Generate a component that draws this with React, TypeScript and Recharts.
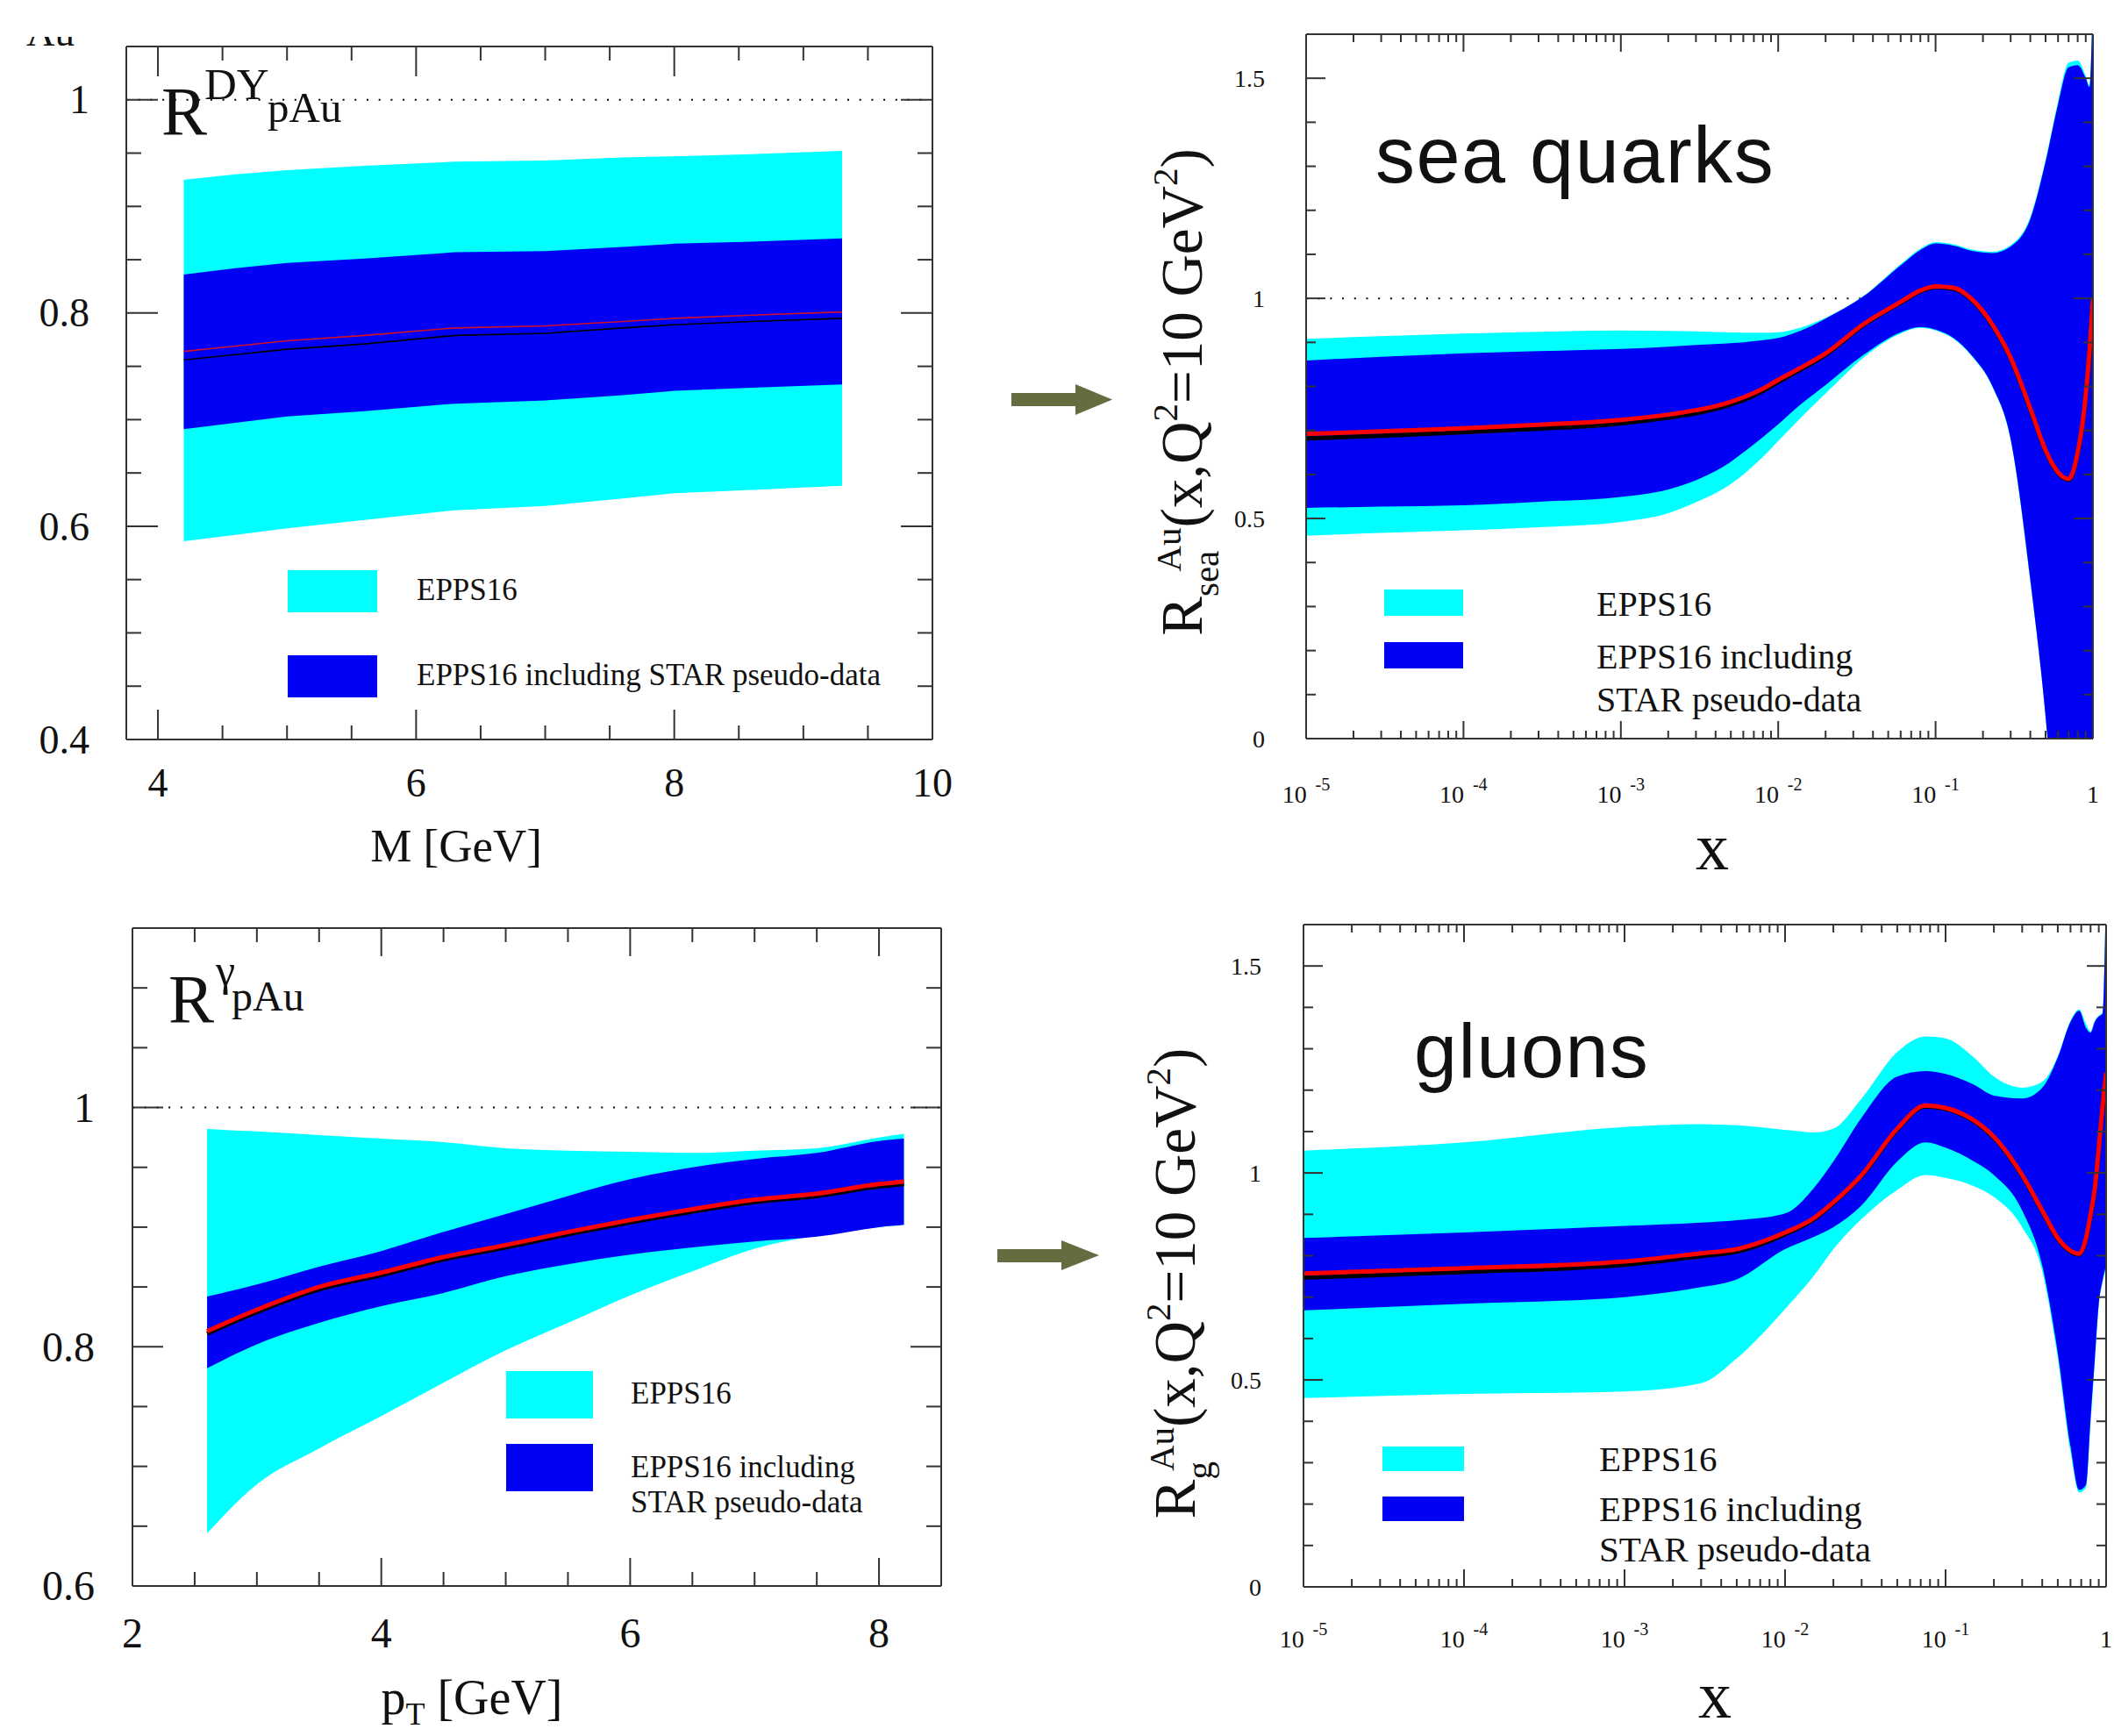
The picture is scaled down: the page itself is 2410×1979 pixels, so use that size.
import React from "react";
import { ComposedChart, Area, Line, XAxis, YAxis } from "recharts";

const SERIF = '"Liberation Serif", "Times New Roman", serif';
const SANS = '"Liberation Sans", Arial, sans-serif';
const CYAN = "#00ffff";
const BLUE = "#0000f5";
const RED = "#ff0000";
const FRAME = "#333";

// ---- R^DY_pAu vs M ----
const dyM = [4.2, 4.6, 5.0, 5.6, 6.3, 7.0, 7.6, 8.0, 8.6, 9.3];
const dyCyanHi = [0.925, 0.93, 0.934, 0.938, 0.942, 0.943, 0.946, 0.947, 0.949, 0.952];
const dyCyanLo = [0.586, 0.592, 0.598, 0.606, 0.615, 0.619, 0.626, 0.631, 0.634, 0.638];
const dyBlueHi = [0.836, 0.842, 0.847, 0.851, 0.857, 0.858, 0.862, 0.865, 0.867, 0.87];
const dyBlueLo = [0.691, 0.697, 0.703, 0.708, 0.715, 0.718, 0.723, 0.727, 0.73, 0.733];
const dyRed = [0.764, 0.769, 0.774, 0.779, 0.786, 0.788, 0.792, 0.795, 0.798, 0.801];
const dyBlack = [0.756, 0.761, 0.766, 0.771, 0.779, 0.781, 0.786, 0.789, 0.792, 0.795];
const dyXTicks = [4, 4.5, 5, 5.5, 6, 6.5, 7, 7.5, 8, 8.5, 9, 9.5, 10];
const dyXMajor = [4, 6, 8, 10];
const dyYTicks = [0.4, 0.45, 0.5, 0.55, 0.6, 0.65, 0.7, 0.75, 0.8, 0.85, 0.9, 0.95, 1];
const dyYMajor = [0.4, 0.6, 0.8, 1];

// ---- R^gamma_pAu vs pT ----
const gPt = [2.6, 3.0, 3.5, 4.0, 4.5, 5.0, 5.5, 6.0, 6.5, 7.0, 7.5, 8.0, 8.2];
const gCyanHi = [0.982, 0.98, 0.977, 0.974, 0.971, 0.966, 0.964, 0.963, 0.962, 0.964, 0.966, 0.975, 0.978];
const gCyanLo = [0.644, 0.685, 0.715, 0.742, 0.77, 0.797, 0.82, 0.843, 0.863, 0.882, 0.893, 0.9, 0.902];
const gBlueHi = [0.842, 0.852, 0.867, 0.88, 0.896, 0.911, 0.926, 0.94, 0.95, 0.957, 0.962, 0.972, 0.974];
const gBlueLo = [0.782, 0.802, 0.82, 0.834, 0.845, 0.859, 0.869, 0.877, 0.883, 0.888, 0.892, 0.9, 0.902];
const gRed = [0.813, 0.831, 0.85, 0.862, 0.875, 0.885, 0.896, 0.906, 0.915, 0.923, 0.928, 0.936, 0.938];
const gBlack = [0.811, 0.829, 0.848, 0.86, 0.873, 0.883, 0.894, 0.904, 0.913, 0.921, 0.926, 0.934, 0.936];
const gXTicks = [2, 2.5, 3, 3.5, 4, 4.5, 5, 5.5, 6, 6.5, 7, 7.5, 8];
const gXMajor = [2, 4, 6, 8];
const gYTicks = [0.6, 0.65, 0.7, 0.75, 0.8, 0.85, 0.9, 0.95, 1, 1.05, 1.1];
const gYMajor = [0.6, 0.8, 1];

// ---- sea quarks ----
const seaX = [1e-5, 3e-5, 1e-4, 3e-4, 1e-3, 2e-3, 3e-3, 4.5e-3, 6e-3, 8e-3, 1e-2, 1.4e-2, 2e-2, 3.5e-2, 6e-2, 8e-2, 0.1, 0.13, 0.17, 0.23, 0.3, 0.4, 0.5, 0.6, 0.7, 0.8, 0.9, 0.95, 1.0];
const seaCyanHi = [0.908, 0.914, 0.92, 0.924, 0.927, 0.926, 0.925, 0.923, 0.922, 0.922, 0.923, 0.934, 0.956, 1.006, 1.078, 1.113, 1.128, 1.123, 1.111, 1.106, 1.121, 1.185, 1.315, 1.447, 1.535, 1.54, 1.505, 1.485, 1.7];
const seaCyanLo = [0.461, 0.467, 0.473, 0.48, 0.492, 0.512, 0.537, 0.568, 0.6, 0.64, 0.676, 0.73, 0.784, 0.866, 0.92, 0.933, 0.927, 0.908, 0.868, 0.798, 0.678, 0.358, 0.05, -0.3, -0.6, -0.8, -0.9, -0.9, -0.9];
const seaBlueHi = [0.859, 0.867, 0.875, 0.88, 0.885, 0.89, 0.894, 0.897, 0.9, 0.905, 0.91, 0.927, 0.954, 1.005, 1.075, 1.11, 1.125, 1.12, 1.108, 1.103, 1.118, 1.18, 1.31, 1.44, 1.525, 1.53, 1.5, 1.48, 1.7];
const seaBlueLo = [0.524, 0.527, 0.53, 0.538, 0.549, 0.566, 0.587, 0.618, 0.65, 0.685, 0.714, 0.76, 0.803, 0.872, 0.923, 0.935, 0.929, 0.91, 0.87, 0.8, 0.68, 0.36, 0.05, -0.3, -0.6, -0.8, -0.9, -0.9, -0.9];
const seaRed = [0.692, 0.698, 0.705, 0.713, 0.724, 0.736, 0.746, 0.76, 0.775, 0.795, 0.815, 0.843, 0.875, 0.942, 0.992, 1.018, 1.027, 1.024, 0.998, 0.94, 0.865, 0.75, 0.655, 0.605, 0.59, 0.65, 0.78, 0.88, 1.0];
const seaBlack = [0.682, 0.688, 0.696, 0.704, 0.716, 0.729, 0.739, 0.754, 0.769, 0.79, 0.81, 0.839, 0.872, 0.94, 0.99, 1.016, 1.025, 1.022, 0.996, 0.938, 0.863, 0.748, 0.653, 0.603, 0.588, 0.648, 0.778, 0.878, 0.998];

// ---- gluons ----
const gluX = [1e-5, 1e-4, 1e-3, 3e-3, 5e-3, 1e-2, 1.5e-2, 2e-2, 3e-2, 5e-2, 7.5e-2, 0.1, 0.15, 0.2, 0.3, 0.4, 0.5, 0.6, 0.68, 0.75, 0.8, 0.85, 0.9, 0.95, 1.0];
const gluCyanHi = [1.054, 1.074, 1.111, 1.118, 1.115, 1.104, 1.098, 1.107, 1.18, 1.292, 1.33, 1.325, 1.279, 1.233, 1.206, 1.22, 1.282, 1.368, 1.395, 1.36, 1.342, 1.368, 1.38, 1.388, 1.7];
const gluCyanLo = [0.456, 0.466, 0.472, 0.492, 0.552, 0.671, 0.75, 0.816, 0.889, 0.959, 0.995, 0.988, 0.968, 0.942, 0.869, 0.763, 0.552, 0.327, 0.228, 0.24, 0.393, 0.54, 0.68, 0.735, 0.77];
const gluBlueHi = [0.843, 0.856, 0.872, 0.88, 0.886, 0.902, 0.962, 1.028, 1.134, 1.233, 1.246, 1.239, 1.213, 1.187, 1.18, 1.206, 1.279, 1.365, 1.392, 1.35, 1.339, 1.365, 1.378, 1.385, 1.7];
const gluBlueLo = [0.668, 0.684, 0.7, 0.724, 0.743, 0.816, 0.845, 0.869, 0.922, 1.028, 1.074, 1.061, 1.028, 0.995, 0.909, 0.776, 0.565, 0.34, 0.234, 0.247, 0.406, 0.55, 0.684, 0.74, 0.776];
const gluRed = [0.757, 0.77, 0.786, 0.806, 0.816, 0.856, 0.89, 0.929, 0.995, 1.107, 1.163, 1.157, 1.127, 1.087, 0.995, 0.909, 0.843, 0.812, 0.805, 0.843, 0.9, 0.962, 1.06, 1.16, 1.242];
const gluBlack = [0.747, 0.761, 0.778, 0.799, 0.81, 0.852, 0.887, 0.927, 0.993, 1.105, 1.161, 1.155, 1.125, 1.085, 0.993, 0.907, 0.841, 0.81, 0.803, 0.841, 0.898, 0.96, 1.058, 1.158, 1.24];

const logMajor = [1e-5, 1e-4, 1e-3, 1e-2, 1e-1, 1];
const logTicks = [
  ...logMajor,
  ...logMajor.slice(0, 5).flatMap((d) => [2, 3, 4, 5, 6, 7, 8, 9].map((k) => k * d)),
].sort((a, b) => a - b);
const xYTicks = [0, 0.1, 0.2, 0.3, 0.4, 0.5, 0.6, 0.7, 0.8, 0.9, 1, 1.1, 1.2, 1.3, 1.4, 1.5];
const xYMajor = [0, 0.5, 1, 1.5];

type Row = { x: number; cLo: number; cHi: number; bLo: number; bHi: number; red: number; black: number };

const rowsOf = (xs: number[], cLo: number[], cHi: number[], bLo: number[], bHi: number[], red: number[], black: number[]): Row[] =>
  xs.map((x, i) => ({ x, cLo: cLo[i], cHi: cHi[i], bLo: bLo[i], bHi: bHi[i], red: red[i], black: black[i] }));

type Side = "bottom" | "top" | "left" | "right";
interface TickSpec {
  side: Side;
  majors: number[];
  majorLen: number;
  minorLen: number;
  fontSize?: number;
  gap?: number;
  label?: (v: number) => React.ReactNode;
}

const isMajor = (v: number, majors: number[]) =>
  majors.some((m) => Math.abs(v - m) <= 1e-6 * Math.abs(m) + 1e-9);

// ticks point inward, labels sit outside the frame
const tickOf = (spec: TickSpec) => (props: any) => {
  const { x, y, payload } = props;
  const v = payload.value as number;
  const major = isMajor(v, spec.majors);
  const len = major ? spec.majorLen : spec.minorLen;
  let x2 = x;
  let y2 = y;
  if (spec.side === "bottom") y2 = y - len;
  if (spec.side === "top") y2 = y + len;
  if (spec.side === "left") x2 = x + len;
  if (spec.side === "right") x2 = x - len;
  const fs = spec.fontSize ?? 30;
  let text: React.ReactNode = null;
  if (major && spec.label) {
    if (spec.side === "bottom")
      text = (
        <text x={x} y={y + (spec.gap ?? 60)} textAnchor="middle" fontSize={fs} fontFamily={SERIF} fill="#111">
          {spec.label(v)}
        </text>
      );
    if (spec.side === "left")
      text = (
        <text x={x - (spec.gap ?? 40)} y={y + fs * 0.34} textAnchor="end" fontSize={fs} fontFamily={SERIF} fill="#111">
          {spec.label(v)}
        </text>
      );
  }
  return (
    <g>
      <line x1={x} y1={y} x2={x2} y2={y2} stroke={FRAME} strokeWidth={2} />
      {text}
    </g>
  );
};

const logLabel = (fs: number) => (v: number) => {
  if (Math.abs(v - 1) < 1e-9) return "1";
  const e = Math.round(Math.log10(v));
  return [
    <tspan key="b">10</tspan>,
    <tspan key="e" dx={fs * 0.35} dy={-fs * 0.5} fontSize={fs * 0.72}>
      {String(e)}
    </tspan>,
  ];
};

interface PanelProps {
  left: number;
  top: number;
  width: number;
  height: number;
  plot: { top: number; right: number; bottom: number; left: number };
  rows: Row[];
  xDomain: [number, number];
  log?: boolean;
  xTicks: number[];
  xMajor: number[];
  xMajorLen: number;
  xMinorLen: number;
  xFont: number;
  xGap: number;
  xLabel: (v: number) => React.ReactNode;
  yDomain: [number, number];
  yTicks: number[];
  yMajor: number[];
  yMajorLen: number;
  yMinorLen: number;
  yFont: number;
  yGap: number;
  lineWidth: number;
  redColor: string;
  curve: "monotone" | "linear";
}

function Panel(p: PanelProps) {
  const unity = [
    { x: p.xDomain[0], one: 1 },
    { x: p.xDomain[1], one: 1 },
  ];
  const yLabel = (v: number) => String(v);
  // each axis takes 1px, so margins are one less than the plot offsets
  const margin = { top: p.plot.top - 1, right: p.plot.right - 1, bottom: p.plot.bottom - 1, left: p.plot.left - 1 };
  const common = {
    type: "number" as const,
    allowDataOverflow: true,
    interval: 0 as const,
    tickLine: false,
    tickSize: 0,
    tickMargin: 0,
    axisLine: { stroke: FRAME, strokeWidth: 2 },
  };
  return (
    <div style={{ position: "absolute", left: p.left, top: p.top }}>
      <ComposedChart width={p.width} height={p.height} data={p.rows} margin={margin}>
        <XAxis
          {...common}
          dataKey="x"
          scale={p.log ? "log" : "linear"}
          domain={p.xDomain}
          ticks={p.xTicks}
          height={1}
          tick={tickOf({ side: "bottom", majors: p.xMajor, majorLen: p.xMajorLen, minorLen: p.xMinorLen, fontSize: p.xFont, gap: p.xGap, label: p.xLabel })}
        />
        <XAxis
          {...common}
          xAxisId="top"
          orientation="top"
          dataKey="x"
          scale={p.log ? "log" : "linear"}
          domain={p.xDomain}
          ticks={p.xTicks}
          height={1}
          tick={tickOf({ side: "top", majors: p.xMajor, majorLen: p.xMajorLen, minorLen: p.xMinorLen })}
        />
        <YAxis
          {...common}
          domain={p.yDomain}
          ticks={p.yTicks}
          width={1}
          tick={tickOf({ side: "left", majors: p.yMajor, majorLen: p.yMajorLen, minorLen: p.yMinorLen, fontSize: p.yFont, gap: p.yGap, label: yLabel })}
        />
        <YAxis
          {...common}
          yAxisId="right"
          orientation="right"
          domain={p.yDomain}
          ticks={p.yTicks}
          width={1}
          tick={tickOf({ side: "right", majors: p.yMajor, majorLen: p.yMajorLen, minorLen: p.yMinorLen })}
        />
        <Area data={unity} dataKey="one" type="linear" fill="none" stroke="#000" strokeWidth={2} strokeDasharray="2 11.7" isAnimationActive={false} />
        <Area dataKey={(d: Row) => [d.cLo, d.cHi]} type={p.curve} fill={CYAN} fillOpacity={1} stroke="none" isAnimationActive={false} />
        <Area dataKey={(d: Row) => [d.bLo, d.bHi]} type={p.curve} fill={BLUE} fillOpacity={1} stroke="none" isAnimationActive={false} />
        <Line dataKey="black" type={p.curve} stroke="#000" strokeWidth={p.lineWidth} dot={false} isAnimationActive={false} />
        <Line dataKey="red" type={p.curve} stroke={p.redColor} strokeWidth={p.lineWidth} dot={false} isAnimationActive={false} />
      </ComposedChart>
    </div>
  );
}

const Legend = ({ x, y1, y2, w, h, tx, b1, b2, b3, fs }: { x: number; y1: number; y2: number; w: number; h: number; tx: number; b1: number; b2: number; b3?: number; fs: number }) => (
  <g fontFamily={SERIF} fontSize={fs} fill="#111">
    <rect x={x} y={y1} width={w} height={h} fill={CYAN} />
    <rect x={x} y={y2} width={w} height={h} fill={BLUE} />
    <text x={tx} y={b1}>EPPS16</text>
    {b3 === undefined ? (
      <text x={tx} y={b2}>EPPS16 including STAR pseudo-data</text>
    ) : (
      <>
        <text x={tx} y={b2}>EPPS16 including</text>
        <text x={tx} y={b3}>STAR pseudo-data</text>
      </>
    )}
  </g>
);

const RLabel = ({ bx, cy, sub, subShift }: { bx: number; cy: number; sub: string; subShift: number }) => (
  <text transform={`translate(${bx} ${cy}) rotate(-90)`} textAnchor="middle" fontFamily={SERIF} fontSize={67} fill="#111">
    R
    <tspan fontSize={41} dy={19}>{sub}</tspan>
    <tspan fontSize={41} dx={subShift} dy={-43}>Au</tspan>
    <tspan fontSize={67} dy={24}>(x,Q</tspan>
    <tspan fontSize={41} dy={-28}>2</tspan>
    <tspan fontSize={67} dy={28}>=10 GeV</tspan>
    <tspan fontSize={41} dy={-28}>2</tspan>
    <tspan fontSize={67} dy={28}>)</tspan>
  </text>
);

const plainLabel = (v: number) => String(v);

export default function App() {
  const dyRows = rowsOf(dyM, dyCyanLo, dyCyanHi, dyBlueLo, dyBlueHi, dyRed, dyBlack);
  const gRows = rowsOf(gPt, gCyanLo, gCyanHi, gBlueLo, gBlueHi, gRed, gBlack);
  const seaRows = rowsOf(seaX, seaCyanLo, seaCyanHi, seaBlueLo, seaBlueHi, seaRed, seaBlack);
  const gluRows = rowsOf(gluX, gluCyanLo, gluCyanHi, gluBlueLo, gluBlueHi, gluRed, gluBlack);

  return (
    <div style={{ position: "absolute", left: 0, top: 0, width: 2410, height: 1979, background: "#fff", overflow: "hidden" }}>
      <Panel
        left={0} top={0} width={1150} height={1010}
        plot={{ top: 53, right: 87, bottom: 167, left: 144 }}
        rows={dyRows} xDomain={[3.755, 10]} xTicks={dyXTicks} xMajor={dyXMajor}
        xMajorLen={34} xMinorLen={16} xFont={46} xGap={65} xLabel={plainLabel}
        yDomain={[0.4, 1.05]} yTicks={dyYTicks} yMajor={dyYMajor}
        yMajorLen={36} yMinorLen={17} yFont={46} yGap={42}
        lineWidth={1.6} redColor="#d0102a" curve="linear"
      />
      <Panel
        left={1180} top={0} width={1230} height={1010}
        plot={{ top: 39, right: 24, bottom: 168, left: 309 }}
        rows={seaRows} xDomain={[1e-5, 1]} log xTicks={logTicks} xMajor={logMajor}
        xMajorLen={20} xMinorLen={9} xFont={28} xGap={73} xLabel={logLabel(28)}
        yDomain={[0, 1.6]} yTicks={xYTicks} yMajor={xYMajor}
        yMajorLen={22} yMinorLen={11} yFont={28} yGap={47}
        lineWidth={5} redColor={RED} curve="monotone"
      />
      <Panel
        left={0} top={1010} width={1150} height={969}
        plot={{ top: 48, right: 77, bottom: 171, left: 151 }}
        rows={gRows} xDomain={[2, 8.5]} xTicks={gXTicks} xMajor={gXMajor}
        xMajorLen={32} xMinorLen={16} xFont={48} xGap={70} xLabel={plainLabel}
        yDomain={[0.6, 1.15]} yTicks={gYTicks} yMajor={gYMajor}
        yMajorLen={35} yMinorLen={17} yFont={48} yGap={43}
        lineWidth={5} redColor={RED} curve="monotone"
      />
      <Panel
        left={1180} top={1010} width={1230} height={969}
        plot={{ top: 44, right: 9, bottom: 170, left: 306 }}
        rows={gluRows} xDomain={[1e-5, 1]} log xTicks={logTicks} xMajor={logMajor}
        xMajorLen={20} xMinorLen={9} xFont={28} xGap={69} xLabel={logLabel(28)}
        yDomain={[0, 1.6]} yTicks={xYTicks} yMajor={xYMajor}
        yMajorLen={22} yMinorLen={11} yFont={28} yGap={48}
        lineWidth={5} redColor={RED} curve="monotone"
      />

      <svg width={2410} height={1979} style={{ position: "absolute", left: 0, top: 0, pointerEvents: "none" }}>
        <defs>
          <clipPath id="cutTop">
            <rect x={0} y={42} width={200} height={30} />
          </clipPath>
        </defs>
        <text x={30} y={52} fontFamily={SERIF} fontSize={45} fill="#111" clipPath="url(#cutTop)">Au</text>

        {/* panel titles */}
        <g fontFamily={SERIF} fill="#111">
          <text x={184} y={153} fontSize={78}>R</text>
          <text x={233} y={113} fontSize={51}>DY</text>
          <text x={305} y={139} fontSize={49}>pAu</text>
          <text x={192} y={1165} fontSize={78}>R</text>
          <text x={246} y={1123} fontSize={50}>γ</text>
          <text x={264} y={1152} fontSize={48}>pAu</text>
        </g>
        <g fontFamily={SANS} fill="#111">
          <text x={1568} y={208} fontSize={90} letterSpacing={1.5}>sea quarks</text>
          <text x={1612} y={1228} fontSize={88} letterSpacing={1.5}>gluons</text>
        </g>

        {/* axis titles */}
        <g fontFamily={SERIF} fill="#111" textAnchor="middle">
          <text x={520} y={982} fontSize={53}>M [GeV]</text>
          <text x={538} y={1954} fontSize={56}>
            p<tspan fontSize={36} dy={12}>T</tspan>
            <tspan dy={-12}> [GeV]</tspan>
          </text>
          <text x={1952} y={991} fontSize={76}>x</text>
          <text x={1955} y={1958} fontSize={76}>x</text>
        </g>
        <RLabel bx={1370} cy={447} sub="sea" subShift={-24} />
        <RLabel bx={1362} cy={1463} sub="g" subShift={-11} />

        {/* legends */}
        <Legend x={328} y1={650} y2={747} w={102} h={48} tx={475} b1={684} b2={781} fs={35} />
        <Legend x={1578} y1={672} y2={732} w={90} h={30} tx={1820} b1={702} b2={762} b3={811} fs={40} />
        <Legend x={577} y1={1563} y2={1646} w={99} h={54} tx={719} b1={1600} b2={1684} b3={1724} fs={35} />
        <Legend x={1576} y1={1649} y2={1706} w={93} h={28} tx={1823} b1={1677} b2={1734} b3={1780} fs={41} />

        {/* arrows */}
        <g fill="#676b40">
          <rect x={1153} y={448} width={76} height={15} />
          <polygon points="1226,438 1268,455.5 1226,473" />
          <rect x={1137} y={1424} width={76} height={15} />
          <polygon points="1210,1414 1253,1431 1210,1448" />
        </g>
      </svg>
    </div>
  );
}
